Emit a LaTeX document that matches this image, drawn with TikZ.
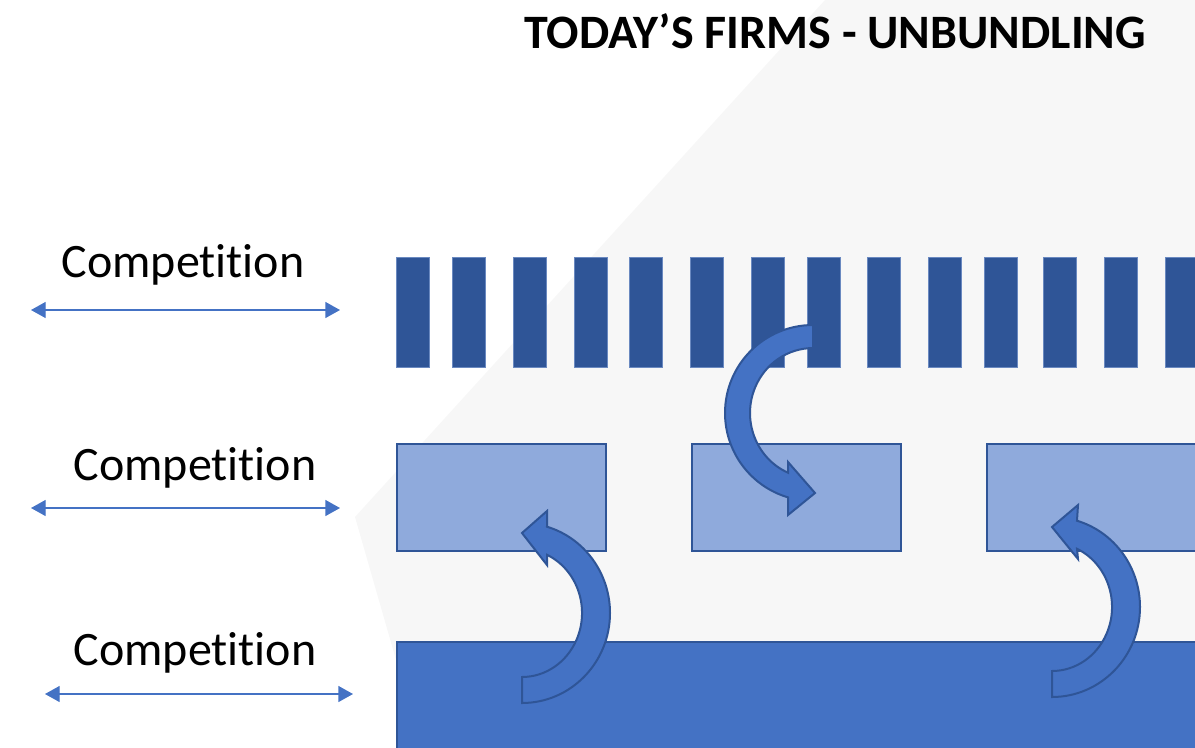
\documentclass[tikz,border=0pt]{standalone}
\usepackage{fontspec}
\setmainfont[Ligatures=NoCommon]{Carlito}
\usetikzlibrary{arrows.meta}
\definecolor{darkblue}{HTML}{2F5597}
\definecolor{midblue}{HTML}{4472C4}
\definecolor{lightblue}{HTML}{8FAADC}
\definecolor{bggray}{HTML}{F7F7F7}
\definecolor{barline}{HTML}{6A89C0}
\tikzset{
  barbox/.style={fill=darkblue, draw=barline, line width=0.4pt},
  lightbox/.style={fill=lightblue, draw=darkblue, line width=1.8pt},
  basebox/.style={fill=midblue, draw=darkblue, line width=1.8pt},
  curvearrow/.style={fill=midblue, draw=darkblue, line width=1.5pt, line join=miter},
  comparrow/.style={draw=midblue, line width=1pt, {Triangle[length=11pt,width=12pt]}-{Triangle[length=11pt,width=12pt]}},
  lbl/.style={font=\fontsize{36}{40}\selectfont, anchor=base, inner sep=0pt},
  ttl/.style={font=\fontsize{36}{40}\selectfont\bfseries, anchor=base, inner sep=0pt}
}
\begin{document}
\begin{tikzpicture}[x=0.75pt,y=-0.75pt]
\useasboundingbox (0,0) rectangle (1195,747);
\clip (0,0) rectangle (1195,747);
% background panel
\fill[bggray] (825,0) -- (1195,0) -- (1195,747) -- (421,747) -- (355,517) -- cycle;
% title
\node[ttl] (title) at (835,48) {TODAY’S FIRMS - UNBUNDLING};
% bars
\foreach \bx [count=\i] in {396,452,513,574,629,690,751,807,867,928,984,1043,1104,1165}{
  \draw[barbox] (\bx,257) rectangle ++(33,110);
}
% middle boxes
\draw[lightbox] (397,444) rectangle (606,551);
\draw[lightbox] (692,444) rectangle (901,551);
\draw[lightbox] (987,444) rectangle (1210,551);
% base
\draw[basebox] (397,642) rectangle (1210,760);
% curved arrows
\draw[curvearrow] (522,703) arc[start angle=90, end angle=-73.5, x radius=88, y radius=90]
  -- (547,511) -- (522,533) -- (547,565) -- (547,554.8)
  arc[start angle=-65.4, end angle=90, x radius=60, y radius=64] -- cycle;
\begin{scope}[shift={(530,-6)}]
\draw[curvearrow] (522,703) arc[start angle=90, end angle=-73.5, x radius=88, y radius=90]
  -- (548,511) -- (522,533) -- (548,565) -- (547,554.8)
  arc[start angle=-65.4, end angle=90, x radius=60, y radius=64] -- cycle;
\end{scope}
\draw[curvearrow] (813,325) arc[start angle=-90, end angle=-253.5, x radius=88, y radius=88]
  -- (788,515) -- (815,493) -- (788,462) -- (788,472.7)
  arc[start angle=-246.6, end angle=-90, x radius=63, y radius=65] -- cycle;
% competition labels and arrows
\node[lbl] (c1) at (183,277) {Competition};
\node[lbl] (c2) at (195,480) {Competition};
\node[lbl] (c3) at (195,665) {Competition};
\coordinate (a1l) at (31,310); \coordinate (a1r) at (340,310);
\coordinate (a2l) at (31,508); \coordinate (a2r) at (340,508);
\coordinate (a3l) at (45,694); \coordinate (a3r) at (353,694);
\draw[comparrow] (a1l) -- (a1r);
\draw[comparrow] (a2l) -- (a2r);
\draw[comparrow] (a3l) -- (a3r);
\end{tikzpicture}
\end{document}
